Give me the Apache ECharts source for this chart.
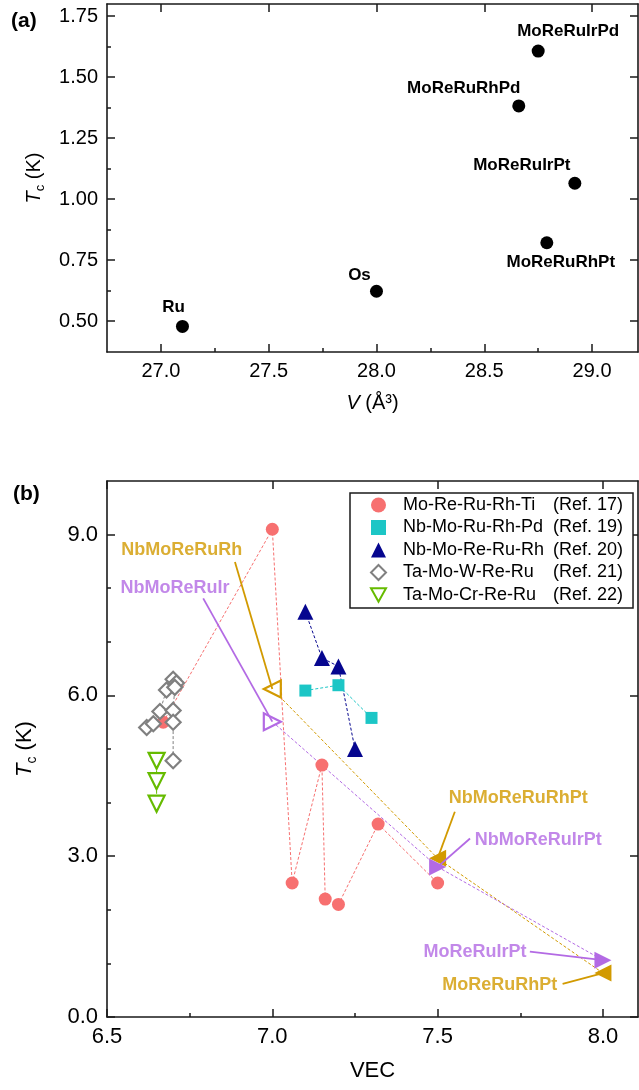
<!DOCTYPE html>
<html>
<head>
<meta charset="utf-8">
<script src="https://cdn.jsdelivr.net/npm/echarts@6/dist/echarts.min.js"></script>
<style>
  html, body { margin: 0; padding: 0; background: #fff; }
  #main { width: 639px; height: 1090px; }
</style>
</head>
<body>
<div id="main"></div>
<script>
// ---- (a) Tc against cell volume ----
var volNames = ['Ru', 'Os', 'MoReRuRhPt', 'MoReRuIrPt', 'MoReRuRhPd', 'MoReRuIrPd'];
var volV  = [27.10, 28.00, 28.79, 28.92, 28.66, 28.75];
var volTc = [0.478, 0.622, 0.821, 1.065, 1.382, 1.607];
var volXTicks = [27.0, 27.5, 28.0, 28.5, 29.0];
var volXMinor = [27.25, 27.75, 28.25, 28.75];
var volYTicks = [0.50, 0.75, 1.00, 1.25, 1.50, 1.75];
var volYMinor = [0.625, 0.875, 1.125, 1.375, 1.625];

// ---- (b) Tc against VEC ----
var refNames = ['Mo-Re-Ru-Rh-Ti', 'Nb-Mo-Ru-Rh-Pd', 'Nb-Mo-Re-Ru-Rh', 'Ta-Mo-W-Re-Ru', 'Ta-Mo-Cr-Re-Ru'];
var refTags  = ['(Ref. 17)', '(Ref. 19)', '(Ref. 20)', '(Ref. 21)', '(Ref. 22)'];
var moReRuRhTiVec = [6.67, 7.00, 7.06, 7.15, 7.16, 7.20, 7.32, 7.50];
var moReRuRhTiTc  = [5.50, 9.10, 2.50, 4.70, 2.20, 2.10, 3.60, 2.50];
var nbMoRuRhPdVec = [7.10, 7.20, 7.30];
var nbMoRuRhPdTc  = [6.09, 6.19, 5.58];
var nbMoReRuRhVec = [7.10, 7.15, 7.20, 7.25];
var nbMoReRuRhTc  = [7.56, 6.70, 6.54, 5.00];
var taMoWReRuVec  = [6.62, 6.64, 6.66, 6.68, 6.70, 6.71, 6.705, 6.70, 6.70, 6.70];
var taMoWReRuTc   = [5.40, 5.47, 5.70, 6.10, 6.30, 6.23, 6.15, 5.72, 5.50, 4.78];
var taMoCrReRuVec = [6.65, 6.65, 6.65];
var taMoCrReRuTc  = [4.78, 4.40, 3.98];

// this work
var rhNames = ['NbMoReRuRh', 'NbMoReRuRhPt', 'MoReRuRhPt'];
var rhVec = [7.00, 7.50, 8.00];
var rhTc  = [6.12, 2.96, 0.82];
var irNames = ['NbMoReRuIr', 'NbMoReRuIrPt', 'MoReRuIrPt'];
var irVec = [7.00, 7.50, 8.00];
var irTc  = [5.51, 2.80, 1.06];

var vecXTicks = [6.5, 7.0, 7.5, 8.0];
var vecXMinor = [6.75, 7.25, 7.75];
var vecYTicks = [0, 3, 6, 9];
var vecYMinor = [1, 2, 4, 5, 7, 8];

// ---- styling ----
var FONT = 'Arial, "Liberation Sans", Helvetica, sans-serif';
var INK = '#1a1a1a';
var refColors = ['#F77070', '#1CC6C6', '#06068F', '#808080', '#66BB00'];
var GOLD = '#D29A00';
var PURPLE = '#B36AE4';

function pairs(xs, ys) {
    return xs.map(function (x, i) { return [x, ys[i]]; });
}

// frame axis: line + major ticks pointing inwards, no labels
function frameAxis(gridIndex, position, min, max, ticks) {
    return {
        type: 'value', gridIndex: gridIndex, position: position, min: min, max: max,
        axisLine: { show: true, onZero: false, lineStyle: { color: INK, width: 1.6 } },
        axisTick: { show: true, inside: true, length: 8, customValues: ticks, lineStyle: { color: INK, width: 1.5 } },
        axisLabel: { show: false },
        splitLine: { show: false }
    };
}
function minorAxis(gridIndex, position, min, max, ticks) {
    return {
        type: 'value', gridIndex: gridIndex, position: position, min: min, max: max,
        axisLine: { show: false },
        axisTick: { show: true, inside: true, length: 4, customValues: ticks, lineStyle: { color: INK, width: 1.5 } },
        axisLabel: { show: false },
        splitLine: { show: false }
    };
}
function mainAxis(gridIndex, position, min, max, ticks, digits, fontSize) {
    var a = frameAxis(gridIndex, position, min, max, ticks);
    a.axisLabel = {
        show: true, customValues: ticks, margin: 9,
        fontSize: fontSize, fontFamily: FONT, color: '#000',
        formatter: function (v) { return v.toFixed(digits); }
    };
    return a;
}
function nameRich(size) {
    return {
        i: { fontStyle: 'italic', fontSize: size, fontFamily: FONT, color: '#000', lineHeight: size + 6 },
        s: { fontSize: Math.round(size * 0.65), fontFamily: FONT, color: '#000', verticalAlign: 'bottom' },
        n: { fontSize: size, fontFamily: FONT, color: '#000', lineHeight: size + 6 }
    };
}

// (a) axes
var ax = mainAxis(0, 'bottom', 26.75, 29.213, volXTicks, 1, 20);
ax.name = '{i|V}{n| (Å³)}';
ax.nameLocation = 'middle';
ax.nameGap = 38;
ax.nameTextStyle = { rich: nameRich(20) };
var ay = mainAxis(0, 'left', 0.373, 1.80, volYTicks, 2, 20);
ay.name = '{i|T}{s|c}{n| (K)}';
ay.nameLocation = 'middle';
ay.nameGap = 60;
ay.nameTextStyle = { rich: nameRich(20) };

// (b) axes
var bx = mainAxis(1, 'bottom', 6.5, 8.106, vecXTicks, 1, 22);
bx.name = 'VEC';
bx.nameLocation = 'middle';
bx.nameGap = 43;
bx.nameTextStyle = { fontSize: 22, fontFamily: FONT, color: '#000' };
var by = mainAxis(1, 'left', 0, 10, vecYTicks, 1, 22);
by.name = '{i|T}{s|c}{n| (K)}';
by.nameLocation = 'middle';
by.nameGap = 68;
by.nameTextStyle = { rich: nameRich(22) };

// label placement for panel (a) (offset of text centre from the point)
var volLabelOffset = [[-9, -19], [-17, -16], [14, 20], [-53, -18], [-55, -18], [30, -20]];

// reference series look
var refSymbols = ['circle', 'rect', 'triangle', 'diamond', 'triangle'];
var refIcons   = ['circle', 'rect', 'triangle', 'diamond', 'path://M0,0L10,0L5,9Z'];
var refRotate  = [0, 0, 0, 0, 180];
var refSizes   = [13, 12, 16, 15, 16];
var refOpen    = [false, false, false, true, true];
var refData = [
    pairs(moReRuRhTiVec, moReRuRhTiTc),
    pairs(nbMoRuRhPdVec, nbMoRuRhPdTc),
    pairs(nbMoReRuRhVec, nbMoReRuRhTc),
    pairs(taMoWReRuVec, taMoWReRuTc),
    pairs(taMoCrReRuVec, taMoCrReRuTc)
];

var series = [];

series.push({
    name: 'volume', type: 'scatter', xAxisIndex: 0, yAxisIndex: 0,
    symbol: 'circle', symbolSize: 13, itemStyle: { color: '#000', opacity: 1 },
    data: volV.map(function (v, i) {
        return {
            value: [v, volTc[i]], name: volNames[i],
            label: { offset: volLabelOffset[i] }
        };
    }),
    label: {
        show: true, position: 'inside', formatter: '{b}',
        fontSize: 17, fontWeight: 'bold', fontFamily: FONT, color: '#000'
    }
});

// dashed guides joining each reference family
refData.forEach(function (d, k) {
    series.push({
        name: 'link' + k, type: 'line', xAxisIndex: 3, yAxisIndex: 3,
        data: d, showSymbol: false, symbol: 'none', z: 2, silent: true,
        lineStyle: { color: refColors[k], width: 1, type: [3, 2] }
    });
});

// this-work lines (through the three compositions)
function workSeries(name, vec, tc, color, rot) {
    return {
        name: name, type: 'line', xAxisIndex: 3, yAxisIndex: 3, z: 3,
        symbol: 'triangle', symbolRotate: rot, symbolSize: 17, showSymbol: true,
        lineStyle: { color: color, width: 1, type: [3, 2] },
        itemStyle: { color: color, opacity: 1 },
        data: vec.map(function (v, i) {
            var item = { value: [v, tc[i]] };
            if (i === 0) {
                item.itemStyle = { color: '#fff', borderColor: color, borderWidth: 2.2 };
            }
            return item;
        })
    };
}
series.push(workSeries('rhLine', rhVec, rhTc, GOLD, 90));
series.push(workSeries('irLine', irVec, irTc, PURPLE, -90));

// reference markers
refData.forEach(function (d, k) {
    var style = refOpen[k]
        ? { color: '#fff', borderColor: refColors[k], borderWidth: 2.2, opacity: 1 }
        : { color: refColors[k], opacity: 1 };
    series.push({
        name: refNames[k], type: 'scatter', xAxisIndex: 3, yAxisIndex: 3, z: 4,
        symbol: refSymbols[k], symbolRotate: refRotate[k], symbolSize: refSizes[k],
        itemStyle: style, data: d
    });
});

// annotations: text centre and arrow start, arrow ends on the marker
var notes = [
    { name: rhNames[0], color: GOLD,   at: [6.726, 8.71], from: [6.887, 8.49], to: [rhVec[0], rhTc[0]] },
    { name: irNames[0], color: PURPLE, at: [6.706, 8.00], from: [6.791, 7.81], to: [irVec[0], irTc[0]] },
    { name: rhNames[1], color: GOLD,   at: [7.744, 4.08], from: [7.552, 3.83], to: [rhVec[1], rhTc[1]] },
    { name: irNames[1], color: PURPLE, at: [7.804, 3.31], from: [7.598, 3.33], to: [irVec[1], irTc[1]] },
    { name: irNames[2], color: PURPLE, at: [7.613, 1.22], from: [7.779, 1.22], to: [irVec[2], irTc[2]] },
    { name: rhNames[2], color: GOLD,   at: [7.688, 0.60], from: [7.878, 0.62], to: [rhVec[2], rhTc[2]] }
];
series.push({
    name: 'notes', type: 'scatter', xAxisIndex: 3, yAxisIndex: 3, z: 1,
    symbolSize: 1, itemStyle: { color: 'rgba(0,0,0,0)' }, silent: true,
    data: notes.map(function (n) {
        return { value: n.at, name: n.name, label: { color: n.color } };
    }),
    label: {
        show: true, position: 'inside', formatter: '{b}',
        fontSize: 18, fontWeight: 'bold', fontFamily: FONT
    },
    markLine: {
        silent: true, symbol: ['none', 'none'], label: { show: false },
        lineStyle: { type: 'solid', width: 1.8 },
        data: notes.map(function (n) {
            return [{ coord: n.from, lineStyle: { color: n.color } }, { coord: n.to }];
        })
    }
});

var option = {
    animation: false,
    backgroundColor: '#fff',
    title: [
        { text: '(a)', left: 6, top: 6, textStyle: { fontSize: 21, fontWeight: 'bold', fontFamily: FONT, color: '#000' } },
        { text: '(b)', left: 8, top: 479, textStyle: { fontSize: 21, fontWeight: 'bold', fontFamily: FONT, color: '#000' } }
    ],
    grid: [
        { left: 107, top: 4, width: 531, height: 348 },
        { left: 107, top: 481, width: 531, height: 536 }
    ],
    xAxis: [
        ax,
        frameAxis(0, 'top', 26.75, 29.213, volXTicks),
        minorAxis(0, 'bottom', 26.75, 29.213, volXMinor),
        bx,
        frameAxis(1, 'top', 6.5, 8.106, vecXTicks),
        minorAxis(1, 'bottom', 6.5, 8.106, vecXMinor)
    ],
    yAxis: [
        ay,
        frameAxis(0, 'right', 0.373, 1.80, volYTicks),
        minorAxis(0, 'left', 0.373, 1.80, volYMinor),
        by,
        frameAxis(1, 'right', 0, 10, vecYTicks),
        minorAxis(1, 'left', 0, 10, vecYMinor)
    ],
    legend: {
        orient: 'vertical', left: 350, top: 493,
        padding: [3, 10, 4, 20], itemGap: 4.5, itemWidth: 15, itemHeight: 15,
        borderColor: INK, borderWidth: 1.5, backgroundColor: '#fff',
        selectedMode: false,
        data: refNames.map(function (n, k) { return { name: n, icon: refIcons[k] }; }),
        formatter: function (name) {
            return '{a|' + name + '}{b|' + refTags[refNames.indexOf(name)] + '}';
        },
        textStyle: {
            fontSize: 18, fontFamily: FONT, color: '#000',
            rich: {
                a: { fontSize: 18, fontFamily: FONT, color: '#000', width: 150, padding: [0, 0, 0, 12] },
                b: { fontSize: 18, fontFamily: FONT, color: '#000' }
            }
        }
    },
    series: series
};

var myChart = echarts.init(document.getElementById('main'));
myChart.setOption(option);
</script>
</body>
</html>
